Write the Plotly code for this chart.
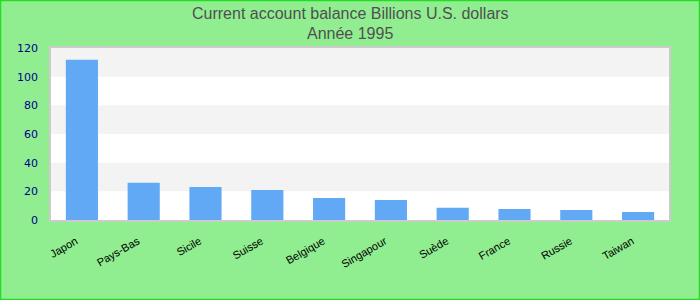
import plotly.graph_objects as go

countries = ["Japon", "Pays-Bas", "Sicile", "Suisse", "Belgique", "Singapour",
             "Suède", "France", "Russie", "Taiwan"]
values = [111.8, 26.0, 23.0, 21.0, 15.4, 14.0, 8.5, 7.6, 7.0, 5.6]
y_ticks = [0, 20, 40, 60, 80, 100, 120]
title_lines = ["Current account balance Billions U.S. dollars", "Année 1995"]

L, R, T, B = 51, 31, 48, 80
W, H = 700, 300
pw, ph = W - L - R, H - T - B

fig = go.Figure(go.Bar(x=countries, y=values, marker=dict(color="#62a9f5", line=dict(width=0)),
                       width=0.52, hoverinfo="x+y"))

shapes = []
for lo in (20, 60, 100):
    shapes.append(dict(type="rect", xref="paper", yref="y", x0=0, x1=1, y0=lo, y1=lo + 20,
                       fillcolor="#f3f3f3", line=dict(width=0), layer="below"))
shapes.append(dict(type="rect", xref="paper", yref="paper",
                   x0=-(L - 0.5) / pw, x1=1 + (R - 0.5) / pw,
                   y0=-(B - 0.5) / ph, y1=1 + (T - 0.5) / ph,
                   line=dict(color="#22dd22", width=1.5), fillcolor="rgba(0,0,0,0)"))

annotations = []
for i, txt in enumerate(title_lines):
    ycen = 13 + 20 * i
    annotations.append(dict(text=txt, xref="paper", yref="paper", x=0.5 - (L - R) / 2 / pw,
                            y=1 + (T - ycen) / ph, xanchor="center", yanchor="middle",
                            showarrow=False,
                            font=dict(family="Liberation Sans, Arial", size=16, color="#505050")))

fig.update_layout(
    width=W, height=H,
    margin=dict(l=L, r=R, t=T, b=B),
    paper_bgcolor="#90ee90", plot_bgcolor="white",
    shapes=shapes, annotations=annotations,
    showlegend=False,
    bargap=0.48,
)
fig.update_xaxes(tickangle=-30, tickfont=dict(family="Liberation Sans, Arial", size=11, color="black"),
                 showline=True, linecolor="#cccccc", mirror=True, linewidth=1.5,
                 ticks="outside", ticklen=9, tickcolor="rgba(0,0,0,0)", showgrid=False,
                 ticklabelshift=-6)
fig.update_yaxes(range=[0, 120], tickvals=y_ticks,
                 tickfont=dict(family="DejaVu Sans", size=11, color="#00008b"),
                 showline=True, linecolor="#cccccc", mirror=True, linewidth=1.5,
                 ticks="outside", ticklen=9, tickcolor="rgba(0,0,0,0)", showgrid=False,
                 zeroline=False)

fig.write_html("out.html")
